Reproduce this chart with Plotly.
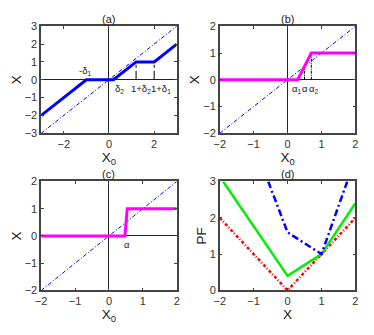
import plotly.graph_objects as go

# ---- data ----
# panel (a)
a_x = [-3, -1, 0.2, 1.2, 2, 3]
a_y = [-2, 0, 0, 1, 1, 2]
a_diag = [-3, 3]
a_vlines_x = [1.2, 2]
a_vlines_top = [1, 1]
# panel (b)
b_x = [-2, 0.3, 0.7, 2]
b_y = [0, 0, 1, 1]
b_diag = [-2, 2]
b_vlines_x = [0.5, 0.7]
b_vlines_top = [0.5, 1]
# panel (c)
c_x = [-2, 0.47, 0.54, 2]
c_y = [0, 0, 1, 1]
c_diag = [-2, 2]
# panel (d)
d_red_x = [-2, 0, 2]
d_red_y = [2, 0, 2]
d_green_x = [-1.9, 0, 1, 2]
d_green_y = [3, 0.4, 1, 2.4]
d_blue_x = [-0.57, 0, 1, 1.76]
d_blue_y = [3, 1.6, 1, 3]

W, H = 374, 335
def px(v): return v / W
def py(v): return 1 - v / H

xdomL = [px(36), px(175)]
xdomR = [px(219), px(358)]
ydomT = [py(132), py(21)]
ydomB = [py(295), py(182)]

fig = go.Figure()
BLUE = "#0000ff"; MAG = "#ff00ff"
DD = "4px,2px,1px,2px"

# (a)
fig.add_trace(go.Scatter(x=a_diag, y=a_diag, mode="lines", line=dict(color=BLUE, width=1, dash=DD), xaxis="x", yaxis="y"))
for vx, vt in zip(a_vlines_x, a_vlines_top):
    fig.add_trace(go.Scatter(x=[vx, vx], y=[0, vt], mode="lines", line=dict(color="black", width=1, dash="dashdot"), xaxis="x", yaxis="y"))
fig.add_trace(go.Scatter(x=a_x, y=a_y, mode="lines", line=dict(color=BLUE, width=3), xaxis="x", yaxis="y"))
# (b)
fig.add_trace(go.Scatter(x=b_diag, y=b_diag, mode="lines", line=dict(color=BLUE, width=1, dash=DD), xaxis="x2", yaxis="y2"))
for vx, vt in zip(b_vlines_x, b_vlines_top):
    fig.add_trace(go.Scatter(x=[vx, vx], y=[0, vt], mode="lines", line=dict(color="black", width=1, dash="3px,1px,1px,1px"), xaxis="x2", yaxis="y2"))
fig.add_trace(go.Scatter(x=b_x, y=b_y, mode="lines", line=dict(color=MAG, width=3), xaxis="x2", yaxis="y2"))
# (c)
fig.add_trace(go.Scatter(x=c_diag, y=c_diag, mode="lines", line=dict(color=BLUE, width=1, dash=DD), xaxis="x3", yaxis="y3"))
fig.add_trace(go.Scatter(x=c_x, y=c_y, mode="lines", line=dict(color=MAG, width=3), xaxis="x3", yaxis="y3"))
# (d)
fig.add_trace(go.Scatter(x=d_red_x, y=d_red_y, mode="lines", line=dict(color="#ff0000", width=2.5, dash="3px,2px,1px,2px"), xaxis="x4", yaxis="y4"))
fig.add_trace(go.Scatter(x=d_green_x, y=d_green_y, mode="lines", line=dict(color="#00ee00", width=2.5), xaxis="x4", yaxis="y4"))
fig.add_trace(go.Scatter(x=d_blue_x, y=d_blue_y, mode="lines", line=dict(color=BLUE, width=2.5, dash="7px,3px,2px,3px"), xaxis="x4", yaxis="y4"))

FONT = "Liberation Sans, Arial, sans-serif"
def ax(domain, rng, dtick, anchor, title, zero=True):
    return dict(domain=domain, range=rng, dtick=dtick, anchor=anchor,
                showline=True, mirror="ticks", linecolor="#444", linewidth=1.5,
                ticks="inside", ticklen=3, tickcolor="#444", showgrid=False,
                zeroline=zero, zerolinecolor="#222", zerolinewidth=1,
                tickfont=dict(size=11, color="#333", family=FONT),
                title=dict(text=title, font=dict(size=13.5, color="#222", family=FONT), standoff=0))

fig.update_layout(
    width=W, height=H, margin=dict(l=0, r=0, t=0, b=0),
    plot_bgcolor="white", paper_bgcolor="white", showlegend=False,
    xaxis=ax(xdomL, [-3, 3], 2, "y", "X<sub>0</sub>"),
    yaxis=ax(ydomT, [-3, 3], 1, "x", "X"),
    xaxis2=ax(xdomR, [-2, 2], 1, "y2", "X<sub>0</sub>"),
    yaxis2=ax(ydomT, [-2, 2], 1, "x2", "X"),
    xaxis3=ax(xdomL, [-2, 2], 1, "y3", "X<sub>0</sub>"),
    yaxis3=ax(ydomB, [-2, 2], 1, "x3", "X"),
    xaxis4=ax(xdomR, [-2, 2], 1, "y4", "X", zero=False),
    yaxis4=ax(ydomB, [0, 3], 1, "x4", "PF", zero=False),
)

anns = []
for lbl, xd, yd in [("(a)", xdomL, ydomT), ("(b)", xdomR, ydomT), ("(c)", xdomL, ydomB), ("(d)", xdomR, ydomB)]:
    anns.append(dict(text=lbl, x=(xd[0] + xd[1]) / 2, y=yd[1], xref="paper", yref="paper",
                     xanchor="center", yanchor="bottom", showarrow=False, yshift=-1,
                     font=dict(size=11, color="#222", family=FONT)))
lab = dict(showarrow=False, font=dict(size=9.5, color="#222", family=FONT))
anns += [
    dict(text="-δ<sub>1</sub>", x=-1.05, y=0.05, xref="x", yref="y", xanchor="center", yanchor="bottom", **lab),
    dict(text="δ<sub>2</sub>", x=0.2, y=-0.05, xref="x", yref="y", xanchor="left", yanchor="top", **lab),
    dict(text="1+δ<sub>2</sub>", x=0.88, y=-0.05, xref="x", yref="y", xanchor="left", yanchor="top", **lab),
    dict(text="1+δ<sub>1</sub>", x=1.78, y=-0.05, xref="x", yref="y", xanchor="left", yanchor="top", **lab),
    dict(text="α<sub>1</sub>", x=0.28, y=-0.03, xref="x2", yref="y2", xanchor="center", yanchor="top", **lab),
    dict(text="α", x=0.5, y=-0.03, xref="x2", yref="y2", xanchor="center", yanchor="top", **lab),
    dict(text="α<sub>2</sub>", x=0.78, y=-0.03, xref="x2", yref="y2", xanchor="center", yanchor="top", **lab),
    dict(text="α", x=0.52, y=-0.05, xref="x3", yref="y3", xanchor="center", yanchor="top", **lab),
]
fig.update_layout(annotations=anns)
fig.write_html("out.html", config={"displayModeBar": False},
               post_script="document.body.style.margin='0';document.body.style.overflow='hidden';")
